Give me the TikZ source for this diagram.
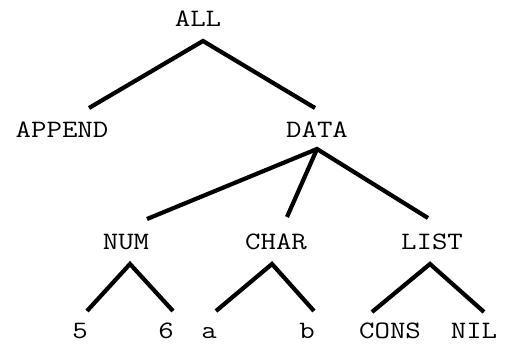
\documentclass[tikz,border=0pt]{standalone}
\usepackage{graphicx}
% typewriter labels, widened to Courier proportions
\newcommand{\tw}[1]{\scalebox{1.2}[1]{#1}}
\begin{document}
\begin{tikzpicture}[x=1pt,y=-1pt,
  lab/.style={anchor=base,inner sep=0pt,font=\ttfamily\fontsize{25}{25}\selectfont},
  edge/.style={line width=4.2pt,line join=miter}]
\useasboundingbox (0,0) rectangle (512,344);

% labels (placed on their baselines)
\node[lab] (all)    at (198,27)  {\tw{ALL}};
\node[lab] (append) at (62,138)  {\tw{APPEND}};
\node[lab] (data)   at (317,138) {\tw{DATA}};
\node[lab] (num)    at (126,250) {\tw{NUM}};
\node[lab] (char)   at (276,250) {\tw{CHAR}};
\node[lab] (list)   at (432,250) {\tw{LIST}};
\node[lab] (five)   at (80,339)  {\tw{5}};
\node[lab] (six)    at (166,339) {\tw{6}};
\node[lab] (ca)     at (209,339) {\tw{a}};
\node[lab] (cb)     at (307,339) {\tw{b}};
\node[lab] (cons)   at (390,339) {\tw{CONS}};
\node[lab] (nil)    at (474,339) {\tw{NIL}};

% branch points below each parent and line ends above each child
\coordinate (all-f)    at (203,41);
\coordinate (append-h) at (89,108);
\coordinate (data-h)   at (315,108);
\coordinate (data-f)   at (317,149);
\coordinate (num-h)    at (147,219);
\coordinate (char-h)   at (287,217);
\coordinate (list-h)   at (428,218);
\coordinate (num-f)    at (130,264);
\coordinate (five-h)   at (87,311);
\coordinate (six-h)    at (173,311);
\coordinate (char-f)   at (272,264);
\coordinate (ca-h)     at (216,311);
\coordinate (cb-h)     at (314,311);
\coordinate (list-f)   at (430,264);
\coordinate (cons-h)   at (372,312);
\coordinate (nil-h)    at (484,312);

% tree edges
\draw[edge] (append-h) -- (all-f) -- (data-h);
\draw[edge] (num-h) -- (data-f) -- (list-h);
\draw[edge] (data-f) -- (char-h);
\draw[edge] (five-h) -- (num-f) -- (six-h);
\draw[edge] (ca-h) -- (char-f) -- (cb-h);
\draw[edge] (cons-h) -- (list-f) -- (nil-h);
\end{tikzpicture}
\end{document}
